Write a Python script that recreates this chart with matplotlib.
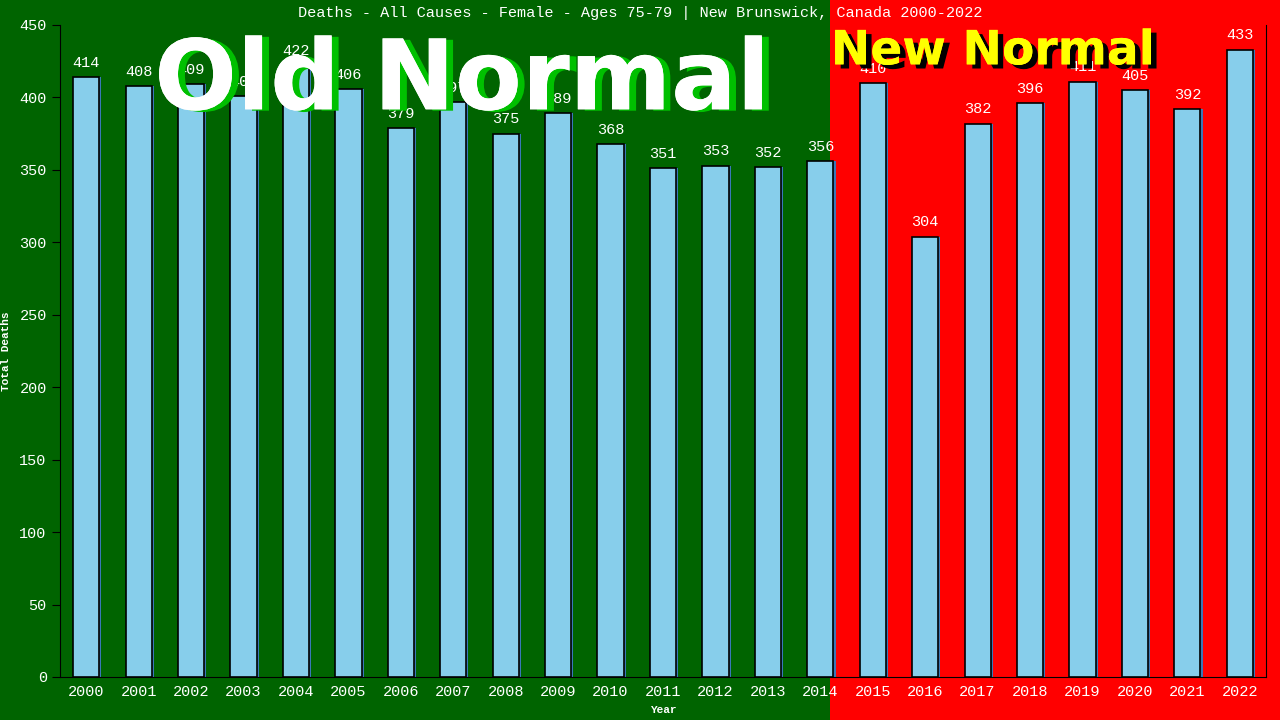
import matplotlib
matplotlib.use("Agg")
import matplotlib.pyplot as plt
from matplotlib.patches import Rectangle
import matplotlib.patheffects as pe

years = list(range(2000, 2023))
deaths = [414, 408, 409, 401, 422, 406, 379, 397, 375, 389, 368, 351,
          353, 352, 356, 410, 304, 382, 396, 411, 405, 392, 433]

title = "Deaths - All Causes - Female - Ages 75-79 | New Brunswick, Canada 2000-2022"
mono = ["Liberation Mono", "DejaVu Sans Mono"]

fig = plt.figure(figsize=(12.8, 7.2), dpi=100)
fig.patch.set_facecolor("#006400")
# red "new normal" region on the right of the figure, behind the axes
split = 830 / 1280
fig.patches.append(Rectangle((split, 0), 1 - split, 1, transform=fig.transFigure,
                             facecolor="#ff0000", edgecolor="none", zorder=-5))

ax = fig.add_axes([60 / 1280, 43 / 720, 1206 / 1280, 652 / 720])
ax.set_facecolor("none")

x = list(range(len(years)))
# thin blue shadow behind each bar
ax.bar([i + 0.04 for i in x], deaths, width=0.5, color="#3a78b8", zorder=2)
ax.bar(x, deaths, width=0.5, color="#87ceeb", edgecolor="black", linewidth=1.2, zorder=3)

for i, v in zip(x, deaths):
    ax.text(i, v + 5, str(v), ha="center", va="bottom", color="white",
            fontsize=11, family=mono, zorder=4)

ax.set_xlim(-0.5, len(years) - 0.5)
ax.set_ylim(0, 450)
ax.set_xticks(x)
ax.set_xticklabels([str(y) for y in years])
ax.set_yticks(range(0, 451, 50))
ax.tick_params(colors="black", labelcolor="white", labelsize=11, length=6)
for lab in ax.get_xticklabels() + ax.get_yticklabels():
    lab.set_family(mono)
for s in ["left", "bottom", "right"]:
    ax.spines[s].set_color("black")
ax.spines["top"].set_visible(False)
ax.tick_params(axis="x", length=0, pad=6)

ax.set_xlabel("Year", color="white", fontsize=8, family=mono, fontweight="bold", labelpad=4)
ax.set_ylabel("Total Deaths", color="white", fontsize=8, family=mono, fontweight="bold", labelpad=6)

fig.text(0.5, 0.992, title, ha="center", va="top", color="white", fontsize=11, family=mono)

fig.text(462 / 1280, 0.885, "Old Normal", ha="center", va="center", color="white",
         fontsize=70, fontweight="bold", family="DejaVu Sans", zorder=5,
         path_effects=[pe.withSimplePatchShadow(offset=(5, -1), shadow_rgbFace="#00c000", alpha=1),
                       pe.Normal()])
fig.text(993 / 1280, 0.928, "New Normal", ha="center", va="center", color="#ffff00",
         fontsize=34, fontweight="bold", family="DejaVu Sans", zorder=5,
         path_effects=[pe.withSimplePatchShadow(offset=(4, -3), shadow_rgbFace="black", alpha=1),
                       pe.Normal()])

fig.savefig("out.png", dpi=100, facecolor=fig.get_facecolor())
